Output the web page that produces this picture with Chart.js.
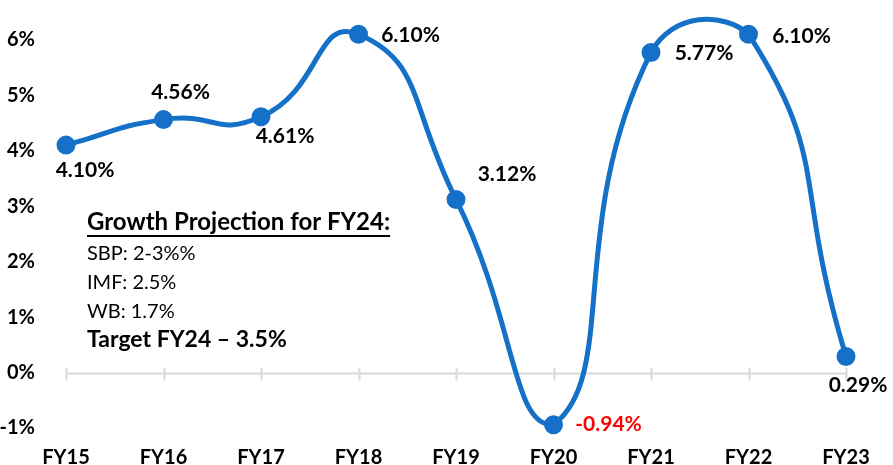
<!DOCTYPE html>
<html>
<head>
<meta charset="utf-8">
<script src="https://cdn.jsdelivr.net/npm/chart.js@4.4.0/dist/chart.umd.min.js"></script>
<style>
  html, body { margin: 0; padding: 0; background: #fff; }
  #wrap { width: 893px; height: 465px; position: relative; }
</style>
</head>
<body>
<div id="wrap"><canvas id="myChart"></canvas></div>
<script>
// GDP growth by fiscal year
const years = ['FY15', 'FY16', 'FY17', 'FY18', 'FY19', 'FY20', 'FY21', 'FY22', 'FY23'];
const growth = [4.10, 4.56, 4.61, 6.10, 3.12, -0.94, 5.77, 6.10, 0.29];
const yTicks = [-1, 0, 1, 2, 3, 4, 5, 6];
const noteLines = ['Growth Projection for FY24:', 'SBP: 2-3%%', 'IMF: 2.5%', 'WB: 1.7%', 'Target FY24 \u2013 3.5%'];

// where each value label sits relative to its point (dx, dy of text centre)
const labelOffsets = [[19, 25], [17, -27], [24, 19], [52, 1], [51, -25], [55, 0], [53, 1], [53, 2], [12, 29]];

const FONT = 'Lato, "Open Sans", sans-serif';
const lineColor = '#1570c8';

const zeroLine = {
  id: 'zeroLine',
  beforeDatasetsDraw(chart) {
    const { ctx, scales: { x, y } } = chart;
    const y0 = Math.round(y.getPixelForValue(0)) + 0.5;
    ctx.save();
    ctx.strokeStyle = '#d9d9d9';
    ctx.lineWidth = 2;
    ctx.beginPath();
    ctx.moveTo(x.getPixelForValue(0), y0);
    ctx.lineTo(x.getPixelForValue(years.length - 1), y0);
    years.forEach((_, i) => {
      const px = Math.round(x.getPixelForValue(i)) + 0.5;
      ctx.moveTo(px, y0 - 6);
      ctx.lineTo(px, y0 + 7);
    });
    ctx.stroke();
    ctx.restore();
  }
};

const valueLabels = {
  id: 'valueLabels',
  afterDatasetsDraw(chart) {
    const { ctx } = chart;
    const meta = chart.getDatasetMeta(0);
    ctx.save();
    ctx.font = 'bold 21px ' + FONT;
    ctx.textAlign = 'center';
    ctx.textBaseline = 'middle';
    meta.data.forEach((pt, i) => {
      const v = growth[i];
      ctx.fillStyle = v < 0 ? '#ff0000' : '#000';
      ctx.fillText(v.toFixed(2) + '%', pt.x + labelOffsets[i][0], pt.y + labelOffsets[i][1]);
    });
    ctx.restore();
  }
};

const notes = {
  id: 'notes',
  afterDraw(chart) {
    const { ctx } = chart;
    const left = 87;
    const baselines = [230, 260, 289, 318, 347];
    const fonts = ['bold 24px ', '20px ', '20px ', '20px ', 'bold 23px '];
    ctx.save();
    ctx.fillStyle = '#000';
    ctx.textAlign = 'left';
    ctx.textBaseline = 'alphabetic';
    noteLines.forEach((t, i) => {
      ctx.font = fonts[i] + FONT;
      ctx.fillText(t, left, baselines[i]);
      if (i === 0) {
        const w = ctx.measureText(t).width;
        ctx.fillRect(left, baselines[i] + 5, w, 2);
      }
    });
    ctx.restore();
  }
};

const ctx = document.getElementById('myChart').getContext('2d');
const myChart = new Chart(ctx, {
  type: 'line',
  data: {
    labels: years,
    datasets: [{
      data: growth,
      borderColor: lineColor,
      backgroundColor: lineColor,
      borderWidth: 5,
      tension: 0.55,
      pointRadius: 7,
      pointHoverRadius: 7,
      clip: false
    }]
  },
  options: {
    responsive: true,
    maintainAspectRatio: false,
    animation: false,
    layout: { padding: { top: 9, right: 47, bottom: 0, left: 0 } },
    plugins: { legend: { display: false }, tooltip: { enabled: false } },
    scales: {
      x: {
        offset: false,
        grid: { display: false },
        border: { display: false },
        ticks: { color: '#000', font: { family: FONT, size: 20, weight: 'bold' }, padding: 10, maxRotation: 0 },
        afterFit(s) { s.height = 37; }
      },
      y: {
        min: -1,
        max: 6.5,
        grid: { display: false },
        border: { display: false },
        afterBuildTicks(s) { s.ticks = yTicks.map(v => ({ value: v })); },
        ticks: {
          color: '#000',
          font: { family: FONT, size: 20, weight: 'bold' },
          padding: 23,
          callback: v => v + '%'
        },
        afterFit(s) {
          s.width = 66;
          s.paddingTop = 0;
          s.paddingBottom = 0;
        }
      }
    }
  },
  plugins: [zeroLine, valueLabels, notes]
});
</script>
</body>
</html>
